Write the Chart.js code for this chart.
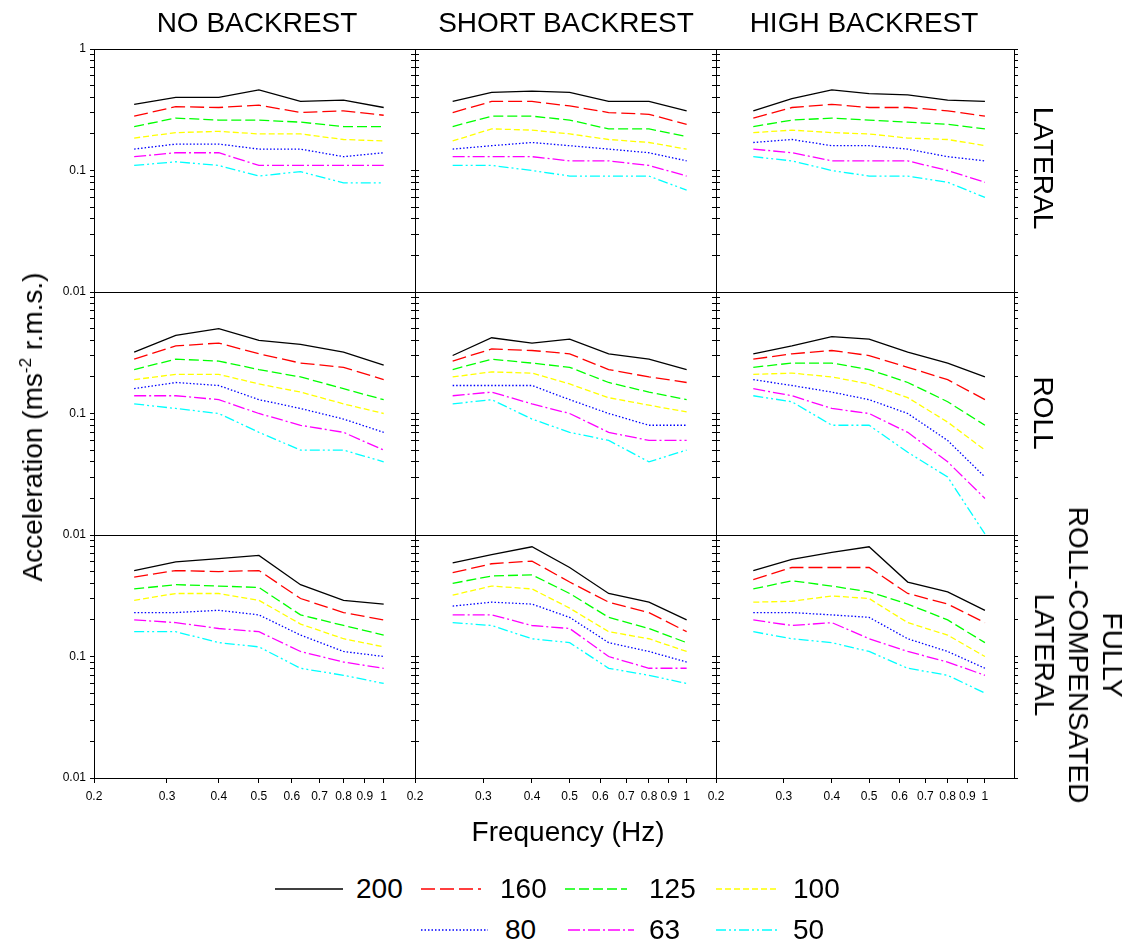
<!DOCTYPE html>
<html>
<head>
<meta charset="utf-8">
<script src="https://cdn.jsdelivr.net/npm/chart.js@4.4.1/dist/chart.umd.min.js"></script>
<style>
  body { margin: 0; background: #fff; width: 1129px; height: 947px; position: relative; overflow: hidden;
         font-family: "Liberation Sans", Arial, sans-serif; color: #000; }
  canvas { position: absolute; }
  .txt { position: absolute; white-space: nowrap; font-size: 28px; line-height: 34px; }
</style>
</head>
<body>
<script>
// frequencies (Hz) and speeds (legend)
const freqs = [0.25, 0.315, 0.4, 0.5, 0.63, 0.8, 1.0];
const seriesLabels = ['200', '160', '125', '100', '80', '63', '50'];
const colTitles = ['NO BACKREST', 'SHORT BACKREST', 'HIGH BACKREST'];
const rowTitles = [['LATERAL'], ['ROLL'], ['FULLY', 'ROLL-COMPENSATED', 'LATERAL']];
const xTickValues = [0.2, 0.3, 0.4, 0.5, 0.6, 0.7, 0.8, 0.9, 1];
const yTickValues = [0.01, 0.02, 0.03, 0.04, 0.05, 0.06, 0.07, 0.08, 0.09,
                     0.1, 0.2, 0.3, 0.4, 0.5, 0.6, 0.7, 0.8, 0.9, 1];

// one row per series: 200, 160, 125, 100, 80, 63, 50
const lateralNo = [
  [0.35, 0.40, 0.40, 0.46, 0.37, 0.38, 0.33],
  [0.28, 0.335, 0.33, 0.345, 0.30, 0.31, 0.285],
  [0.23, 0.27, 0.26, 0.26, 0.25, 0.23, 0.23],
  [0.185, 0.205, 0.21, 0.20, 0.20, 0.18, 0.175],
  [0.15, 0.165, 0.165, 0.15, 0.15, 0.13, 0.14],
  [0.13, 0.14, 0.14, 0.11, 0.11, 0.11, 0.11],
  [0.11, 0.118, 0.11, 0.09, 0.098, 0.079, 0.079]
];
const lateralShort = [
  [0.37, 0.44, 0.45, 0.44, 0.37, 0.37, 0.31],
  [0.30, 0.37, 0.37, 0.34, 0.30, 0.29, 0.24],
  [0.23, 0.28, 0.28, 0.26, 0.22, 0.22, 0.19],
  [0.175, 0.22, 0.215, 0.20, 0.18, 0.17, 0.15],
  [0.15, 0.16, 0.17, 0.16, 0.15, 0.14, 0.12],
  [0.13, 0.13, 0.13, 0.12, 0.12, 0.11, 0.09],
  [0.11, 0.11, 0.10, 0.09, 0.09, 0.09, 0.069]
];
const lateralHigh = [
  [0.31, 0.39, 0.46, 0.43, 0.42, 0.38, 0.37],
  [0.27, 0.33, 0.35, 0.33, 0.33, 0.31, 0.28],
  [0.23, 0.26, 0.27, 0.26, 0.25, 0.24, 0.22],
  [0.205, 0.215, 0.205, 0.20, 0.185, 0.18, 0.16],
  [0.17, 0.18, 0.16, 0.16, 0.15, 0.13, 0.12],
  [0.15, 0.14, 0.12, 0.12, 0.12, 0.10, 0.08],
  [0.13, 0.12, 0.10, 0.09, 0.09, 0.08, 0.06]
];
const rollNo = [
  [0.32, 0.44, 0.50, 0.40, 0.37, 0.32, 0.25],
  [0.28, 0.36, 0.38, 0.31, 0.26, 0.24, 0.19],
  [0.23, 0.28, 0.27, 0.23, 0.20, 0.16, 0.13],
  [0.19, 0.21, 0.21, 0.175, 0.15, 0.12, 0.10],
  [0.16, 0.18, 0.17, 0.13, 0.11, 0.09, 0.07],
  [0.14, 0.14, 0.13, 0.10, 0.08, 0.07, 0.05],
  [0.12, 0.11, 0.10, 0.07, 0.05, 0.05, 0.04]
];
const rollShort = [
  [0.30, 0.42, 0.38, 0.41, 0.31, 0.28, 0.23],
  [0.27, 0.34, 0.33, 0.31, 0.23, 0.20, 0.18],
  [0.23, 0.28, 0.26, 0.24, 0.18, 0.15, 0.13],
  [0.20, 0.22, 0.215, 0.175, 0.135, 0.117, 0.103],
  [0.17, 0.17, 0.17, 0.13, 0.10, 0.08, 0.08],
  [0.14, 0.15, 0.12, 0.10, 0.07, 0.06, 0.06],
  [0.12, 0.13, 0.09, 0.07, 0.06, 0.04, 0.05]
];
const rollHigh = [
  [0.31, 0.36, 0.43, 0.41, 0.32, 0.26, 0.20],
  [0.28, 0.31, 0.33, 0.30, 0.24, 0.19, 0.13],
  [0.24, 0.26, 0.26, 0.23, 0.18, 0.125, 0.08],
  [0.21, 0.215, 0.20, 0.175, 0.135, 0.085, 0.05],
  [0.19, 0.17, 0.15, 0.13, 0.10, 0.06, 0.03],
  [0.16, 0.14, 0.11, 0.10, 0.07, 0.04, 0.02],
  [0.14, 0.125, 0.08, 0.08, 0.048, 0.03, 0.0102]
];
const fullNo = [
  [0.51, 0.60, 0.64, 0.68, 0.39, 0.29, 0.27],
  [0.45, 0.51, 0.50, 0.51, 0.30, 0.23, 0.20],
  [0.36, 0.39, 0.38, 0.37, 0.22, 0.18, 0.15],
  [0.29, 0.33, 0.33, 0.29, 0.185, 0.14, 0.12],
  [0.23, 0.23, 0.24, 0.22, 0.15, 0.11, 0.10],
  [0.20, 0.19, 0.17, 0.16, 0.11, 0.09, 0.08],
  [0.16, 0.16, 0.13, 0.12, 0.08, 0.07, 0.06]
];
const fullShort = [
  [0.59, 0.69, 0.80, 0.54, 0.33, 0.28, 0.20],
  [0.49, 0.58, 0.61, 0.41, 0.28, 0.23, 0.16],
  [0.40, 0.46, 0.47, 0.33, 0.21, 0.17, 0.13],
  [0.32, 0.38, 0.36, 0.25, 0.16, 0.14, 0.11],
  [0.26, 0.28, 0.27, 0.21, 0.13, 0.11, 0.09],
  [0.22, 0.22, 0.18, 0.17, 0.10, 0.08, 0.08],
  [0.19, 0.18, 0.14, 0.13, 0.08, 0.07, 0.06]
];
const fullHigh = [
  [0.51, 0.63, 0.72, 0.80, 0.41, 0.34, 0.24],
  [0.43, 0.54, 0.54, 0.54, 0.33, 0.27, 0.19],
  [0.36, 0.42, 0.38, 0.34, 0.27, 0.20, 0.13],
  [0.28, 0.285, 0.315, 0.30, 0.19, 0.15, 0.10],
  [0.23, 0.23, 0.22, 0.21, 0.14, 0.11, 0.08],
  [0.20, 0.18, 0.19, 0.14, 0.11, 0.09, 0.07],
  [0.16, 0.14, 0.13, 0.11, 0.08, 0.07, 0.05]
];

const panels = [
  [lateralNo, lateralShort, lateralHigh],
  [rollNo, rollShort, rollHigh],
  [fullNo, fullShort, fullHigh]
];

// line styles per series
const colors = ['#000000', '#ff0000', '#00ff00', '#ffff00', '#0000ff', '#ff00ff', '#00ffff'];
const dashes = [[], [14, 5], [10, 4], [6, 3], [1.5, 2], [12, 3, 2, 3], [10, 3, 2, 3, 2, 3]];

// panel geometry (plot area)
const colLeft = [94, 415, 716];
const colRight = [415, 716, 1014];
const rowTop = [49, 292, 535];
const rowBottom = [292, 535, 778];
const M = { l: 70, r: 20, t: 20, b: 40 };

const txt = (html, css) => {
  const d = document.createElement('div');
  d.className = 'txt';
  d.innerHTML = html;
  Object.assign(d.style, css);
  document.body.appendChild(d);
  return d;
};

const makePanel = (row, col) => {
  const w = colRight[col] - colLeft[col];
  const h = rowBottom[row] - rowTop[row];
  const canvas = document.createElement('canvas');
  canvas.width = w + M.l + M.r;
  canvas.height = h + M.t + M.b;
  canvas.style.left = (colLeft[col] - M.l) + 'px';
  canvas.style.top = (rowTop[row] - M.t) + 'px';
  document.body.appendChild(canvas);

  const isBottom = row === 2;
  const isLeft = col === 0;
  const vals = panels[row][col];

  const datasets = seriesLabels.map((label, i) => ({
    label: label,
    data: freqs.map((f, j) => ({ x: f, y: vals[i][j] })),
    borderColor: colors[i],
    borderWidth: 1.3,
    borderDash: dashes[i],
    pointRadius: 0,
    fill: false,
    tension: 0
  }));

  const yTicks = s => { s.ticks = yTickValues.map(v => ({ value: v })); };
  const border = { display: true, color: '#000', width: 1 };

  new Chart(canvas, {
    type: 'line',
    data: { datasets: datasets },
    options: {
      responsive: false,
      animation: false,
      devicePixelRatio: 1,
      layout: { padding: 0 },
      plugins: { legend: { display: false }, tooltip: { enabled: false } },
      scales: {
        x: {
          type: 'logarithmic', position: 'bottom', min: 0.2, max: 1.19,
          afterBuildTicks: s => { s.ticks = xTickValues.map(v => ({ value: v })); },
          afterFit: s => { s.height = M.b; },
          ticks: {
            display: isBottom, autoSkip: false, maxRotation: 0, minRotation: 0,
            color: '#000', padding: 6,
            font: { family: '"Liberation Sans", Arial, sans-serif', size: 12 },
            callback: v => String(v)
          },
          grid: { display: isBottom, drawOnChartArea: false, tickLength: 5, color: '#000' },
          border: border
        },
        x2: {
          type: 'linear', position: 'top', min: 0, max: 1,
          afterFit: s => { s.height = M.t; },
          ticks: { display: false }, grid: { display: false }, border: border
        },
        y: {
          type: 'logarithmic', position: 'left', min: 0.01, max: 1,
          afterBuildTicks: yTicks,
          afterFit: s => { s.width = M.l; },
          ticks: {
            display: isLeft, autoSkip: false, color: '#000', padding: 4,
            font: { family: '"Liberation Sans", Arial, sans-serif', size: 12 },
            callback: v => {
              if (v === 1) return row === 0 ? '1' : '';
              if (v === 0.1) return '0.1';
              if (v === 0.01) return '0.01';
              return '';
            }
          },
          grid: { drawOnChartArea: false, tickLength: 4, color: '#000' },
          border: border
        },
        y2: {
          type: 'logarithmic', position: 'right', min: 0.01, max: 1,
          afterBuildTicks: yTicks,
          afterFit: s => { s.width = M.r; },
          ticks: { display: false },
          grid: { drawOnChartArea: false, tickLength: 4, color: '#000' },
          border: border
        }
      }
    }
  });
};

for (let r = 0; r < 3; r++) {
  for (let c = 0; c < 3; c++) makePanel(r, c);
}

// column titles
const titleX = [257, 566, 864];
colTitles.forEach((t, i) => txt(t, { left: titleX[i] + 'px', top: '23px', transform: 'translate(-50%,-50%)' }));

// row titles, rotated clockwise
const rowCenters = [[1043, 168], [1043, 413], [1078, 655]];
rowTitles.forEach((lines, i) => txt(lines.join('<br>'), {
  left: rowCenters[i][0] + 'px', top: rowCenters[i][1] + 'px', textAlign: 'center',
  transform: 'translate(-50%,-50%) rotate(90deg)'
}));

// axis titles
txt('Acceleration (ms<sup style="font-size:17px;vertical-align:11px;line-height:0">-2</sup> r.m.s.)',
  { left: '33px', top: '427px', transform: 'translate(-50%,-50%) rotate(-90deg)' });
txt('Frequency (Hz)', { left: '568px', top: '832px', transform: 'translate(-50%,-50%)' });

// legend: sample line + label in a grid
const legendPos = [
  [275, 343, 356, 889], [421, 481, 500, 889], [565, 627, 649, 889], [716, 776, 793, 889],
  [421, 488, 505, 930], [568, 634, 649, 930], [716, 778, 793, 930]
];
seriesLabels.forEach((label, i) => {
  const [x1, x2, tx, y] = legendPos[i];
  const svg = document.createElementNS('http://www.w3.org/2000/svg', 'svg');
  svg.setAttribute('width', x2 - x1);
  svg.setAttribute('height', 6);
  svg.style.position = 'absolute';
  svg.style.left = x1 + 'px';
  svg.style.top = (y - 3) + 'px';
  const ln = document.createElementNS('http://www.w3.org/2000/svg', 'line');
  ln.setAttribute('x1', 0); ln.setAttribute('x2', x2 - x1);
  ln.setAttribute('y1', 3); ln.setAttribute('y2', 3);
  ln.setAttribute('stroke', colors[i]);
  ln.setAttribute('stroke-width', 1.3);
  if (dashes[i].length) ln.setAttribute('stroke-dasharray', dashes[i].join(' '));
  svg.appendChild(ln);
  document.body.appendChild(svg);
  txt(label, { left: tx + 'px', top: y + 'px', transform: 'translateY(-50%)' });
});
</script>
</body>
</html>
